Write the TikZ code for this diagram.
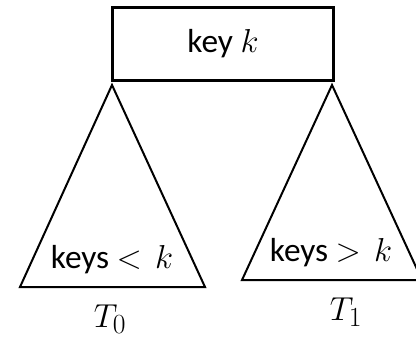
\documentclass[tikz,border=0pt]{standalone}
\usepackage{fontspec}
\setmainfont{Carlito}
\usetikzlibrary{positioning}

\begin{document}
\begin{tikzpicture}[
  x=0.75pt, y=-0.75pt,
  keybox/.style={rectangle, draw, line width=1.9pt, minimum width=166pt,
                 minimum height=55pt, inner sep=0pt, font=\fontsize{25}{30}\selectfont},
  subtree/.style={draw, line width=1.5pt, line join=miter},
  lab/.style={inner sep=0pt, font=\fontsize{25}{30}\selectfont},
  tname/.style={inner sep=0pt, font=\fontsize{32}{38}\selectfont},
]
\clip (0,0) rectangle (416,347);
% ---- root: a single key
\node[keybox] (root) at (223,44) {key $k$};
% ---- left subtree T0 hangs from the left corner
\coordinate (apex0) at (112,85);
\coordinate (bl0) at (20,287);
\coordinate (br0) at (205,287);
\draw[subtree] (apex0) -- (bl0) -- (br0) -- cycle;
\node[lab, anchor=base] (less) at (112,268) {keys $<$\ \,$k$};
\node[tname, anchor=base] (T0) at (110,327) {$T_0$};
% ---- right subtree T1 hangs from the right corner
\coordinate (apex1) at (332,85);
\coordinate (bl1) at (242,280);
\coordinate (br1) at (422,280);
\draw[subtree] (apex1) -- (bl1) -- (br1) -- cycle;
\node[lab, anchor=base] (greater) at (331,261) {keys $>$\ \,$k$};
\node[tname, anchor=base] (T1) at (346,320) {$T_1$};
\end{tikzpicture}
\end{document}
